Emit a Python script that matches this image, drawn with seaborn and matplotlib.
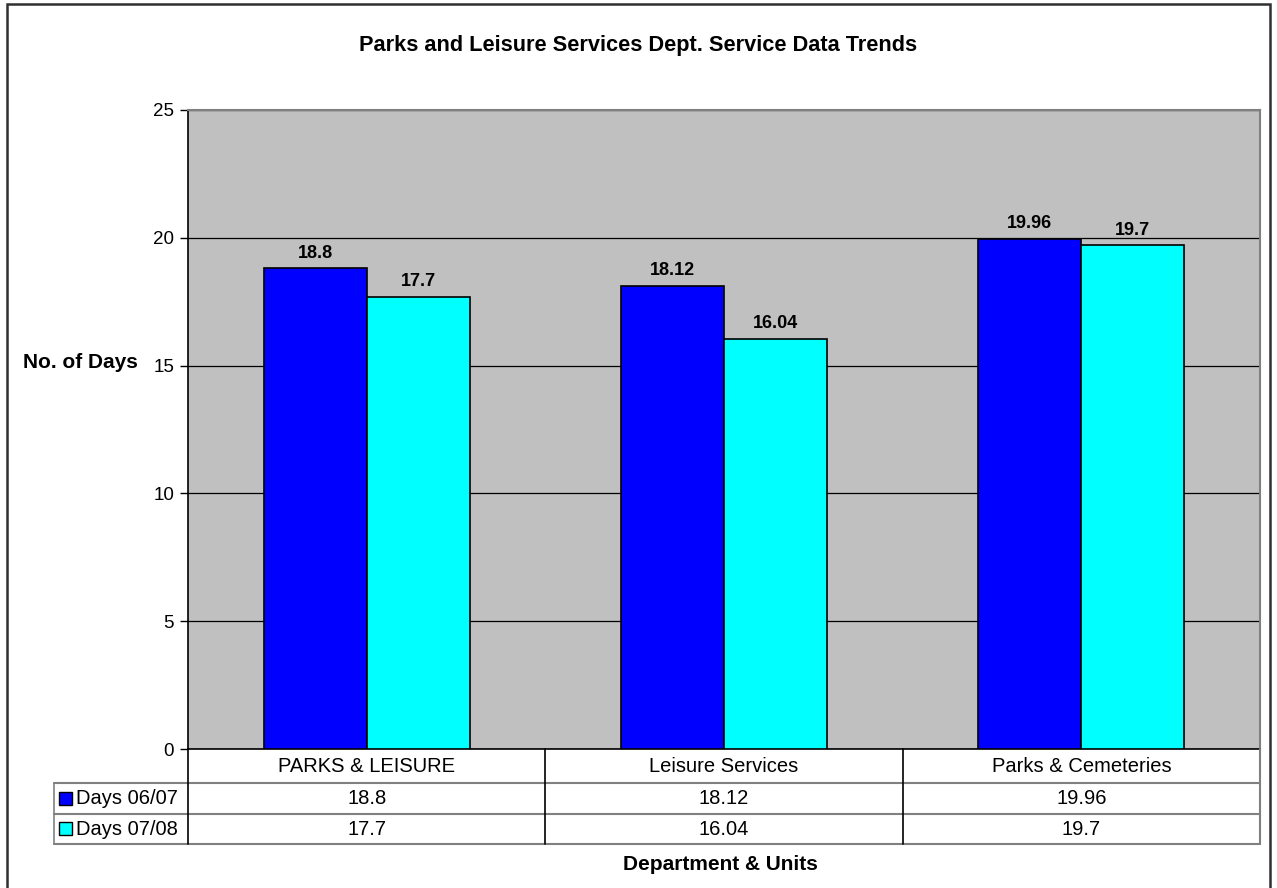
import matplotlib
matplotlib.use("Agg")
import matplotlib.pyplot as plt
from matplotlib.patches import Rectangle
from matplotlib.lines import Line2D
import seaborn as sns
import pandas as pd

units = ["PARKS & LEISURE", "Leisure Services", "Parks & Cemeteries"]
periods = ["Days 06/07", "Days 07/08"]
days_0607 = [18.8, 18.12, 19.96]
days_0708 = [17.7, 16.04, 19.7]
colors = ["#0000FF", "#00FFFF"]
y_ticks = [0, 5, 10, 15, 20, 25]

df = pd.DataFrame({
    "unit": units * 2,
    "period": [periods[0]] * 3 + [periods[1]] * 3,
    "days": days_0607 + days_0708,
})

sns.set_theme(style="white")
plt.rcParams["font.family"] = ["Liberation Sans", "DejaVu Sans"]
plt.rcParams["text.color"] = "black"
plt.rcParams["axes.labelcolor"] = "black"
plt.rcParams["xtick.color"] = "black"
plt.rcParams["ytick.color"] = "black"

W, H = 1277, 888
fig = plt.figure(figsize=(W / 100, H / 100), dpi=100)


def fx(px):
    return px / W


def fy(py):
    return 1 - py / H


L, R, T, B = 188, 1260, 110, 749
ax = fig.add_axes([fx(L), fy(B), fx(R - L), (B - T) / H])
ax.set_facecolor("#C0C0C0")

sns.barplot(data=df, x="unit", y="days", hue="period", palette=colors,
            order=units, hue_order=periods, width=0.577, saturation=1,
            edgecolor="black", linewidth=1.2, legend=False, ax=ax, zorder=3)

for cont in ax.containers:
    ax.bar_label(cont, fmt="%g", padding=5, fontsize=13, fontweight="bold",
                 color="black")

ax.set_ylim(0, 25)
ax.set_xlim(-0.5, 2.5)
ax.set_yticks(y_ticks)
ax.yaxis.grid(True, color="black", linewidth=0.9, zorder=1)
ax.set_axisbelow(True)
ax.tick_params(axis="y", which="both", left=True, length=6, width=1,
               color="black", labelcolor="black", labelsize=13.5, pad=4,
               direction="out")
ax.tick_params(axis="x", bottom=False, labelbottom=False)
ax.set_xlabel("")
ax.set_ylabel("")
for side in ("left", "bottom"):
    ax.spines[side].set_color("black")
    ax.spines[side].set_linewidth(1.2)
for side in ("top", "right"):
    ax.spines[side].set_color("#808080")
    ax.spines[side].set_linewidth(1.5)

# Data table below the plot
row_y = [749, 783, 814, 844]
leg_x = 54
col_w = (R - L) / 3
col_x = [L + k * col_w for k in range(4)]
grey = "#808080"


def hline(x0, x1, y, color=grey, lw=1.5):
    fig.add_artist(Line2D([fx(x0), fx(x1)], [fy(y), fy(y)], color=color, lw=lw))


def vline(x, y0, y1, color="black", lw=1.2):
    fig.add_artist(Line2D([fx(x), fx(x)], [fy(y0), fy(y1)], color=color, lw=lw))


hline(leg_x, R, row_y[1])
hline(leg_x, R, row_y[2])
hline(leg_x, R, row_y[3])
vline(leg_x, row_y[1], row_y[3], color=grey)
for x in col_x[:3]:
    vline(x, row_y[0], row_y[3])
vline(R, row_y[0], row_y[3], color=grey, lw=1.5)

for k, name in enumerate(units):
    cx = (col_x[k] + col_x[k + 1]) / 2
    fig.text(fx(cx), fy((row_y[0] + row_y[1]) / 2), name, ha="center",
             va="center", fontsize=14.5, color="black")

for r, (label, vals, c) in enumerate(zip(periods, [days_0607, days_0708], colors)):
    yc = (row_y[r + 1] + row_y[r + 2]) / 2
    fig.add_artist(Rectangle((fx(59), fy(yc + 6)), fx(13), 13 / H,
                             facecolor=c, edgecolor="black", lw=1))
    fig.text(fx(76), fy(yc), label, ha="left", va="center", fontsize=14.5,
             color="black")
    for k, v in enumerate(vals):
        cx = (col_x[k] + col_x[k + 1]) / 2
        fig.text(fx(cx), fy(yc), f"{v:g}", ha="center", va="center",
                 fontsize=14.5, color="black")

fig.text(0.5, fy(45), "Parks and Leisure Services Dept. Service Data Trends",
         ha="center", va="center", fontsize=15.7, fontweight="bold",
         color="black")
fig.text(fx(80), fy(362), "No. of Days", ha="center", va="center",
         fontsize=15, fontweight="bold", color="black")
fig.text(fx(720), fy(864), "Department & Units", ha="center", va="center",
         fontsize=15, fontweight="bold", color="black")

# Chart border
fig.add_artist(Rectangle((fx(7), fy(900)), fx(1270 - 7), (900 - 4) / H,
                         facecolor="none", edgecolor="#303030", lw=1.8))

fig.savefig("out.png", dpi=100, facecolor="white")
